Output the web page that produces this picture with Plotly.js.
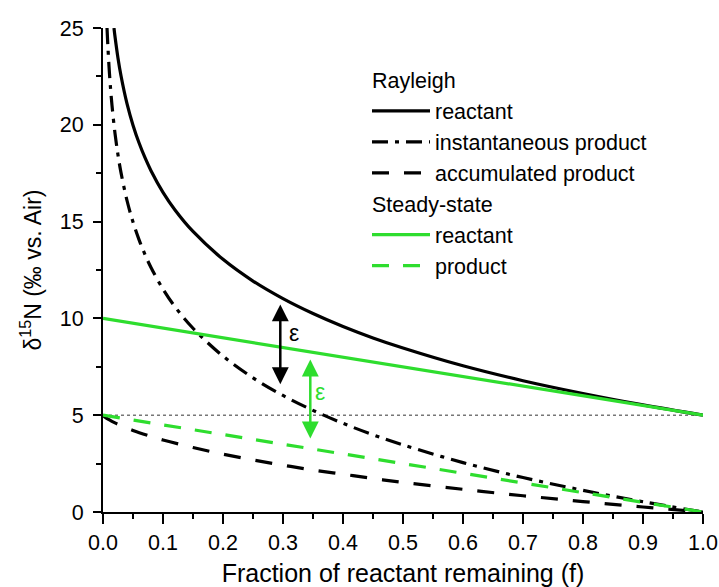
<!DOCTYPE html>
<html>
<head>
<meta charset="utf-8">
<script src="https://cdn.plot.ly/plotly-3.0.1.min.js"></script>
<style>
html,body{margin:0;padding:0;background:#fff;}
#chart{width:719px;height:587px;}
</style>
</head>
<body>
<div id="chart"></div>
<script>
// Rayleigh reactant
const fReact = [0.0183,0.02,0.025,0.03,0.04,0.05,0.06,0.07,0.08,0.1,0.12,0.15,0.2,0.25,0.3,0.35,0.4,0.45,0.5,0.6,0.7,0.8,0.9,1.0];
const dReact = [25.0,24.56,23.44,22.53,21.09,19.98,19.07,18.30,17.63,16.51,15.60,14.49,13.05,11.93,11.02,10.25,9.58,8.99,8.47,7.55,6.78,6.12,5.53,5.0];
// Rayleigh instantaneous product
const fInst = [0.0067,0.008,0.01,0.0125,0.015,0.02,0.025,0.03,0.04,0.05,0.06,0.07,0.08,0.1,0.12,0.15,0.2,0.25,0.3,0.35,0.4,0.45,0.5,0.6,0.7,0.8,0.9,1.0];
const dInst = [25.0,24.14,23.03,21.91,21.00,19.56,18.44,17.53,16.09,14.98,14.07,13.30,12.63,11.51,10.60,9.49,8.05,6.93,6.02,5.25,4.58,3.99,3.47,2.55,1.78,1.12,0.53,0.0];
// Rayleigh accumulated product
const fAcc = [0,0.003,0.01,0.02,0.03,0.05,0.075,0.1,0.15,0.2,0.25,0.3,0.35,0.4,0.45,0.5,0.6,0.7,0.8,0.9,1.0];
const dAcc = [5.0,4.91,4.77,4.60,4.46,4.21,3.95,3.72,3.33,2.99,2.69,2.42,2.17,1.95,1.73,1.53,1.17,0.84,0.54,0.26,0.0];
// Steady-state
const fSS = [0,0.2,0.4,0.6,0.8,1.0];
const dSSReact = [10,9,8,7,6,5];
const dSSProd = [5,4,3,2,1,0];
// reference line (initial value)
const fRef = [0,1];
const dRef = [5,5];
// epsilon arrows: [f, top, bottom]
const epsBlack = [0.2955, 10.8, 6.6];
const epsGreen = [0.3455, 7.95, 3.8];
const epsBlackLabel = [0.318, 9.25];
const epsGreenLabel = [0.362, 6.2];

const GREEN = '#2EDD2E';
const FONT = '"Liberation Sans", Arial, sans-serif';

const traces = [
  {x: fRef, y: dRef, mode: 'lines', showlegend: false, hoverinfo: 'skip',
   line: {color: '#777', width: 1.5, dash: '3px,3px'}},
  {x: fReact, y: dReact, mode: 'lines', name: 'reactant',
   legendgroup: 'R', legendgrouptitle: {text: 'Rayleigh', font: {size: 21.5, color: '#000'}},
   line: {color: '#000', width: 3.2, shape: 'spline', smoothing: 1}},
  {x: fInst, y: dInst, mode: 'lines', name: 'instantaneous product', legendgroup: 'R',
   line: {color: '#000', width: 3.2, dash: '16px,7px,4px,7px', shape: 'spline', smoothing: 1}},
  {x: fAcc, y: dAcc, mode: 'lines', name: 'accumulated product', legendgroup: 'R',
   line: {color: '#000', width: 3.2, dash: '17px,15px', shape: 'spline', smoothing: 1}},
  {x: fSS, y: dSSReact, mode: 'lines', name: 'reactant',
   legendgroup: 'S', legendgrouptitle: {text: 'Steady-state', font: {size: 21.5, color: '#000'}},
   line: {color: GREEN, width: 3.2}},
  {x: fSS, y: dSSProd, mode: 'lines', name: 'product', legendgroup: 'S',
   line: {color: GREEN, width: 3.2, dash: '17px,14px'}}
];

const layout = {
  width: 719, height: 587,
  margin: {l: 103, r: 16, t: 28, b: 75},
  paper_bgcolor: '#fff', plot_bgcolor: '#fff',
  font: {family: FONT, color: '#000', size: 21},
  showlegend: true,
  legend: {x: 0.44, y: 0.935, xanchor: 'left', yanchor: 'top',
    font: {size: 21.5, color: '#000'}, itemwidth: 58, tracegroupgap: 0,
    traceorder: 'grouped', bgcolor: 'rgba(0,0,0,0)', borderwidth: 0},
  xaxis: {range: [0, 1], dtick: 0.1, tickformat: '.1f', showgrid: false, zeroline: false,
    showline: true, linecolor: '#000', linewidth: 2, mirror: false,
    ticks: 'outside', ticklen: 10, tickwidth: 2, tickcolor: '#000',
    minor: {dtick: 0.05, ticks: 'outside', ticklen: 5, tickwidth: 2, tickcolor: '#000', showgrid: false},
    tickfont: {size: 21.5},
    title: {text: 'Fraction of reactant remaining (f)', font: {size: 25}, standoff: 14}},
  yaxis: {range: [0, 25], dtick: 5, showgrid: false, zeroline: false,
    showline: true, linecolor: '#000', linewidth: 2, mirror: false,
    ticks: 'outside', ticklen: 8, tickwidth: 2, tickcolor: '#000',
    minor: {dtick: 2.5, ticks: 'outside', ticklen: 5, tickwidth: 2, tickcolor: '#000', showgrid: false},
    tickfont: {size: 21.5}, ticklabelstandoff: 5,
    title: {text: 'δ<sup>15</sup>N (‰ vs. Air)', font: {size: 23}, standoff: 12}},
  annotations: [
    {x: epsBlack[0], y: epsBlack[2], ax: epsBlack[0], ay: epsBlack[1], xref: 'x', yref: 'y', axref: 'x', ayref: 'y',
     text: '', showarrow: true, arrowhead: 2, startarrowhead: 2, arrowside: 'end+start',
     arrowsize: 1.35, arrowwidth: 2.5, arrowcolor: '#000'},
    {x: epsGreen[0], y: epsGreen[2], ax: epsGreen[0], ay: epsGreen[1], xref: 'x', yref: 'y', axref: 'x', ayref: 'y',
     text: '', showarrow: true, arrowhead: 2, startarrowhead: 2, arrowside: 'end+start',
     arrowsize: 1.35, arrowwidth: 2.5, arrowcolor: GREEN},
    {x: epsBlackLabel[0], y: epsBlackLabel[1], xref: 'x', yref: 'y', text: 'ε', showarrow: false,
     font: {size: 23, color: '#000'}},
    {x: epsGreenLabel[0], y: epsGreenLabel[1], xref: 'x', yref: 'y', text: 'ε', showarrow: false,
     font: {size: 23, color: GREEN}}
  ]
};

Plotly.newPlot('chart', traces, layout, {displayModeBar: false, staticPlot: true});
</script>
</body>
</html>
